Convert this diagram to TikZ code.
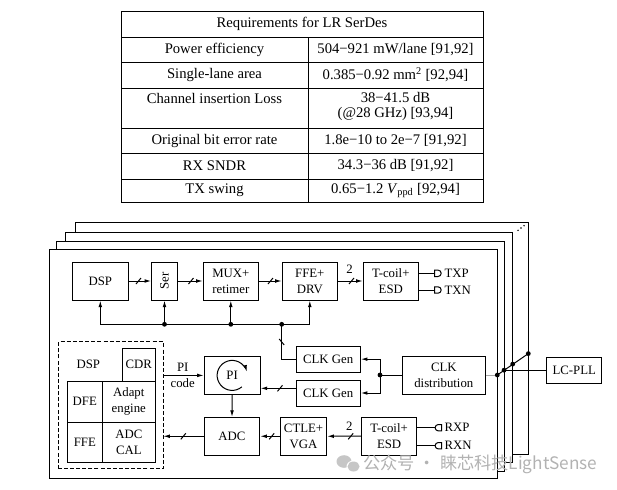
\documentclass[tikz,border=0pt]{standalone}
\usepackage{fontspec}
\setmainfont{Liberation Serif}
\newfontfamily\cjkfont{Noto Sans CJK SC}
\usetikzlibrary{arrows.meta,calc}
\newcommand\bx[7][]{\node[box,#1,minimum width={(#5-#3)*0.75pt},minimum height={(#6-#4)*0.75pt}] (#2) at ({(#3+#5)/2},{(#4+#6)/2}) {#7};}
\newcommand\hslash[1]{\draw (#1) +(-2.5,3) -- +(2.5,-3);}
\newcommand\vslash[1]{\draw (#1) +(-2.5,-3) -- +(2.5,3);}
\begin{document}
\begin{tikzpicture}[x=0.75pt,y=-0.75pt,line width=0.75pt,
  dfont/.style={font=\fontsize{9.6}{12}\selectfont},
  box/.style={draw,fill=white,inner sep=0pt,align=center,dfont},
  arr/.style={-{Latex[length=5pt,width=2.8pt]}},
  dot/.style={circle,fill,inner sep=0pt,minimum size=3.6pt},
  tcell/.style={inner sep=0pt,align=center,font=\fontsize{11}{11.5}\selectfont},
  lbl/.style={inner sep=0pt,dfont}]
\useasboundingbox (0,0) rectangle (617,489);
% ---------- table ----------
\draw (121,11) rectangle (483,202);
\foreach \y in {37,62,88,128,153,179} \draw (121,\y) -- (483,\y);
\draw (308,37) -- (308,202);
\node[tcell] (th) at (302,24) {Requirements for LR SerDes};
\node[tcell] (l1) at (214.5,49.5) {Power efficiency};
\node[tcell] (r1) at (395.5,49.5) {504−921 mW/lane [91,92]};
\node[tcell] (l2) at (214.5,75) {Single-lane area};
\node[tcell] (r2) at (395.5,75) {0.385−0.92 mm\textsuperscript{2} [92,94]};
\node[tcell] (l3) at (214.5,98) {Channel insertion Loss};
\node[tcell] (r3) at (395.5,106.5) {38−41.5 dB\\(@28 GHz) [93,94]};
\node[tcell] (l4) at (214.5,140.5) {Original bit error rate};
\node[tcell] (r4) at (395.5,140.5) {1.8e−10 to 2e−7 [91,92]};
\node[tcell] (l5) at (214.5,166) {RX SNDR};
\node[tcell] (r5) at (395.5,166) {34.3−36 dB [91,92]};
\node[tcell] (l6) at (214.5,190.5) {TX swing};
\node[tcell] (r6) at (395.5,190.5) {0.65−1.2 \textit{V}\textsubscript{ppd} [92,94]};
% ---------- stacked frames ----------
\draw[fill=white] (75,222) rectangle (528.3,454);
\draw[fill=white] (65,232) rectangle (512.7,462.7);
\draw[fill=white] (56,241.7) rectangle (504,471);
\draw[fill=white] (49.3,249.3) rectangle (497.3,478.5);
\fill (518,230.3) circle (0.8) (521,228) circle (0.8) (524,225.7) circle (0.8);
% ---------- TX path ----------
\bx{DSPt}{72.3}{262}{128.3}{300}{DSP}
\bx{Ser}{151.7}{262}{177.3}{300}{\rotatebox{90}{Ser}}
\bx{MUX}{203.3}{262}{258.3}{300}{MUX+\\retimer}
\bx{FFE}{282.3}{262}{337.3}{300}{FFE+\\DRV}
\bx{ESDt}{363.3}{262}{418.3}{300}{T-coil+\\ESD}
\draw[arr] (DSPt.east) -- (Ser.west);
\draw[arr] (Ser.east) -- (MUX.west);
\draw[arr] (MUX.east) -- (FFE.west);
\draw[arr] (FFE.east) -- (ESDt.west);
\hslash{138.5,281}
\hslash{191,281}
\hslash{270.5,281}
\hslash{351.5,281}
\node[lbl] (n2t) at (349.5,269) {2};
% TX pads
\coordinate (txp) at (434.5,273.3);
\coordinate (txn) at (434.5,290);
\draw (ESDt.east |- txp) -- (txp);
\draw (ESDt.east |- txn) -- (txn);
\foreach \c in {txp,txn}
  \draw (\c) ++(0,-3.2) -- ++(3.5,0) arc[start angle=-90,end angle=90,radius=3.2] -- ++(-3.5,0) -- cycle;
\node[lbl,anchor=west] (TXP) at (444,273.3) {TXP};
\node[lbl,anchor=west] (TXN) at (444,290) {TXN};
% clock bus
\coordinate (busy) at (0,324.3);
\draw (DSPt.south |- busy) -- (FFE.south |- busy);
\draw[arr] (DSPt.south |- busy) -- (DSPt.south);
\draw[arr] (Ser.south |- busy) -- (Ser.south);
\draw[arr] (MUX.south |- busy) -- (MUX.south);
\draw[arr] (FFE.south |- busy) -- (FFE.south);
\node[dot] (d1) at (Ser.south |- busy) {};
\node[dot] (d2) at (MUX.south |- busy) {};
\node[dot] (d3) at (281.7,324.3) {};
% ---------- clocks ----------
\bx{CG1}{296}{346}{360.3}{372.3}{CLK Gen}
\bx{CG2}{296}{380}{360.3}{406}{CLK Gen}
\bx{CLKD}{402.3}{356}{485.3}{394}{CLK\\distribution}
\bx{LCPLL}{546.7}{357.3}{601.7}{383.3}{LC-PLL}
\draw (d3.center) |- (CG1.west);
\vslash{281.7,342}
\node[dot] (d4) at (380,375) {};
\draw (CLKD.west) -- (d4.center);
\draw[arr] (d4.center) |- (CG1.east);
\draw[arr] (d4.center) |- (CG2.east);
% frame taps
\coordinate (f1) at (497.3,375);
\coordinate (f2) at (504,370.2);
\coordinate (f3) at (512.7,364.1);
\coordinate (f4) at (528.3,353.6);
\draw[gray!70] (CLKD.east) -- (f1);
\draw (f1) -- (f4);
\draw (f2) -- (f2 -| LCPLL.west);
\foreach \c in {f1,f2,f3,f4} \node[dot] at (\c) {};
% ---------- RX path ----------
\bx[draw=none,fill=none]{Dash}{59.3}{342.3}{162.7}{468.3}{}
\draw[dash pattern=on 3pt off 1.6pt] (Dash.south west) rectangle (Dash.north east);
\node[lbl] (dsplbl) at (88.3,364.3) {DSP};
\bx{CDR}{122.3}{348.3}{155.3}{381}{CDR}
\bx{DFE}{67.3}{381}{102.3}{422.3}{DFE}
\bx{ADP}{102.3}{381}{155.3}{422.3}{Adapt\\engine}
\bx{FFEr}{67.3}{422.3}{102.3}{462.3}{FFE}
\bx{CAL}{102.3}{422.3}{155.3}{462.3}{ADC\\CAL}
\bx{PI}{204.3}{356.5}{260}{394.3}{PI}
\draw[arr] (PI.center) ++(50:15) arc[start angle=50,end angle=346,radius=15];
\bx{ADC}{204.3}{417.5}{259.7}{455}{ADC}
\bx{CTLE}{280.5}{417.5}{326.7}{455}{CTLE+\\VGA}
\bx{ESDr}{361.5}{417.3}{416.7}{455}{T-coil+\\ESD}
\draw[arr] (Dash.east |- PI.west) -- (PI.west);
\node[lbl] (picode1) at (182.7,367.3) {PI};
\node[lbl] (picode2) at (182.7,383.5) {code};
\coordinate (y388) at (0,388.3);
\draw[arr] (CG2.west |- y388) -- (PI.east |- y388);
\hslash{280,388.3}
\draw[arr] (PI.south) -- (ADC.north);
\draw[arr] (ADC.west) -- (Dash.east |- ADC.west);
\hslash{183.3,436.3}
\draw[arr] (CTLE.west) -- (ADC.east);
\hslash{271.7,436.3}
\draw[arr] (ESDr.west) -- (CTLE.east);
\hslash{350.7,436.3}
\node[lbl] (n2r) at (349.3,426) {2};
% RX pads
\coordinate (rxp) at (441.5,427.7);
\coordinate (rxn) at (441.5,445.7);
\draw (ESDr.east |- rxp) -- ($(rxp)+(-6.4,0)$);
\draw (ESDr.east |- rxn) -- ($(rxn)+(-6.4,0)$);
\foreach \c in {rxp,rxn}
  \draw (\c) ++(0,-3.2) -- ++(-3.2,0) arc[start angle=-90,end angle=-270,radius=3.2] -- ++(3.2,0) -- cycle;
\node[lbl,anchor=west] (RXP) at (444,427.7) {RXP};
\node[lbl,anchor=west] (RXN) at (444,445.7) {RXN};
% ---------- watermark ----------
\fill[gray!45] (344,461.5) ellipse (7.5 and 6.3);
\fill[white] (353.5,466.5) ellipse (7 and 6);
\fill[gray!45] (353.5,466.5) ellipse (6 and 5);
\node[anchor=west,inner sep=0pt,text=gray!60,font=\cjkfont\fontsize{12.9}{13}\selectfont] (wm) at (363,464) {公众号 · 睐芯科技LightSense};
\end{tikzpicture}
\end{document}
